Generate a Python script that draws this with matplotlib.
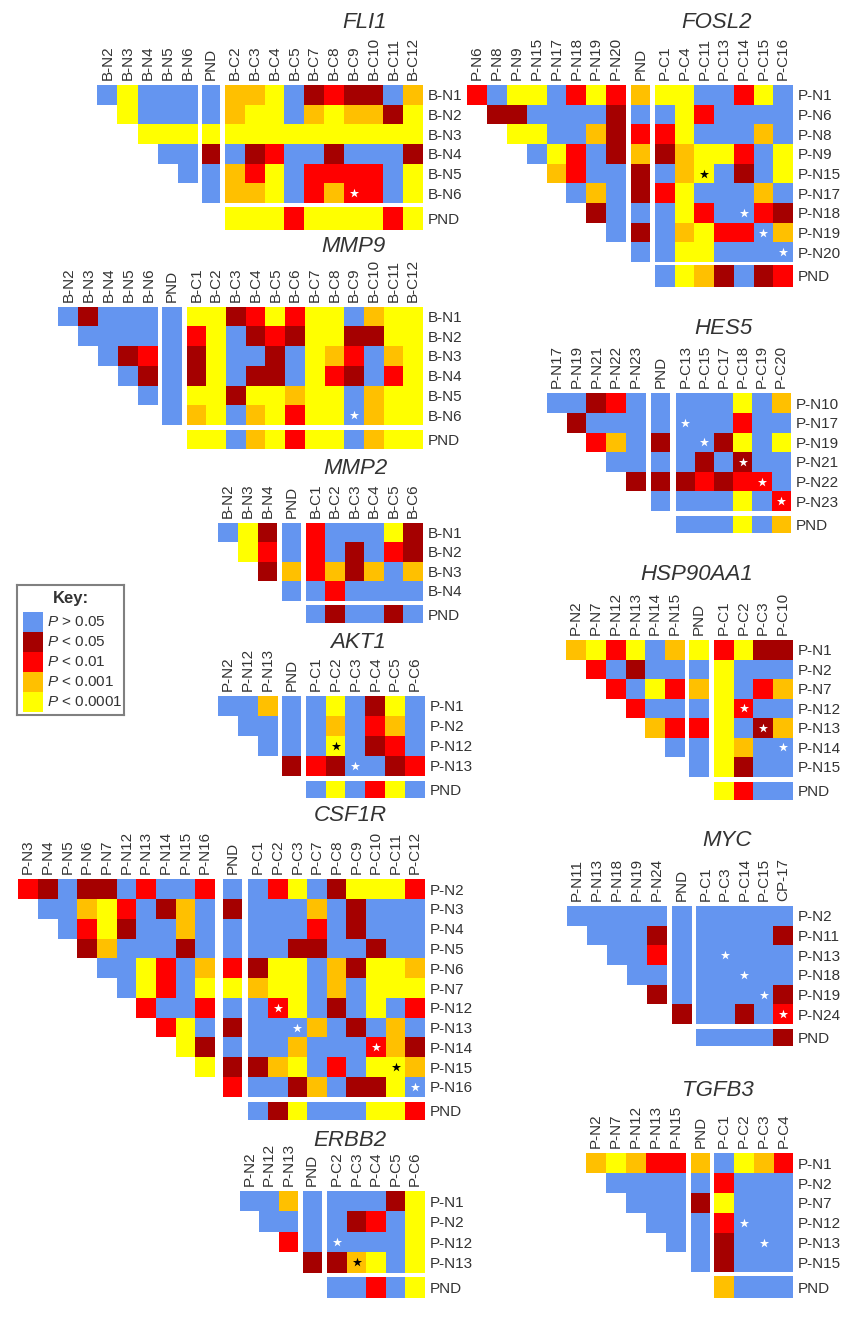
import numpy as np
from matplotlib import pyplot as plt
from matplotlib.colors import ListedColormap

plt.rcParams["font.family"] = ["Liberation Sans", "DejaVu Sans"]
plt.rcParams["mathtext.fontset"] = "custom"
plt.rcParams["mathtext.it"] = "Liberation Sans:italic"

W, H = 843, 1336
COLORS = ["#6495F0", "#A50000", "#FF0000", "#FFC000", "#FFFF00"]
TEXT = "#333333"
KEY_LABELS = ["> 0.05", "< 0.05", "< 0.01", "< 0.001", "< 0.0001"]
KEY_VALUES = [0, 1, 2, 3, 4]

# cell codes: 0 P>0.05, 1 P<0.05, 2 P<0.01, 3 P<0.001, 4 P<0.0001, . empty
# each row is normal samples | PND | cases, the last row is PND
FLI1_ROWS = ["B-N1", "B-N2", "B-N3", "B-N4", "B-N5", "B-N6", "PND"]
FLI1_LEFT = ["B-N2", "B-N3", "B-N4", "B-N5", "B-N6"]
FLI1_RIGHT = ["B-C2", "B-C3", "B-C4", "B-C5", "B-C7", "B-C8", "B-C9", "B-C10", "B-C11", "B-C12"]
FLI1_VALUES = [
    "04000|0|3340121103",
    ".4000|0|3440343314",
    "..444|4|4444444444",
    "...00|1|0120010001",
    "....0|0|3240222204",
    ".....|0|3340232204",
    ".....|.|4442444424",
]
FLI1_STARS = [("B-N6", "B-C9")]

FOSL2_ROWS = ["P-N1", "P-N6", "P-N8", "P-N9", "P-N15", "P-N17", "P-N18", "P-N19", "P-N20", "PND"]
FOSL2_LEFT = ["P-N6", "P-N8", "P-N9", "P-N15", "P-N17", "P-N18", "P-N19", "P-N20"]
FOSL2_RIGHT = ["P-C1", "P-C4", "P-C11", "P-C13", "P-C14", "P-C15", "P-C16"]
FOSL2_VALUES = [
    "20440242|3|4400240",
    ".1100001|0|0420000",
    "..440031|2|2400030",
    "...04201|3|1344204",
    "....3200|1|0340104",
    ".....030|1|2400030",
    "......10|0|0420021",
    ".......0|1|0342203",
    "........|0|0440000",
    "........|.|0431012",
]
FOSL2_STARS = [("P-N15", "P-C11"), ("P-N18", "P-C14"), ("P-N19", "P-C15"), ("P-N20", "P-C16")]

MMP9_ROWS = ["B-N1", "B-N2", "B-N3", "B-N4", "B-N5", "B-N6", "PND"]
MMP9_LEFT = ["B-N2", "B-N3", "B-N4", "B-N5", "B-N6"]
MMP9_RIGHT = ["B-C1", "B-C2", "B-C3", "B-C4", "B-C5", "B-C6", "B-C7", "B-C8", "B-C9", "B-C10", "B-C11", "B-C12"]
MMP9_VALUES = [
    "01000|0|441242440344",
    ".0000|0|240121441144",
    "..012|0|140010432034",
    "...01|0|140110421024",
    "....0|0|441443440344",
    ".....|0|340342440344",
    ".....|.|440342440344",
]
MMP9_STARS = [("B-N6", "B-C9")]

MMP2_ROWS = ["B-N1", "B-N2", "B-N3", "B-N4", "PND"]
MMP2_LEFT = ["B-N2", "B-N3", "B-N4"]
MMP2_RIGHT = ["B-C1", "B-C2", "B-C3", "B-C4", "B-C5", "B-C6"]
MMP2_VALUES = [
    "041|0|200041",
    ".42|0|201021",
    "..1|3|231303",
    "...|0|020000",
    "...|.|010010",
]
MMP2_STARS = []

AKT1_ROWS = ["P-N1", "P-N2", "P-N12", "P-N13", "PND"]
AKT1_LEFT = ["P-N2", "P-N12", "P-N13"]
AKT1_RIGHT = ["P-C1", "P-C2", "P-C3", "P-C4", "P-C5", "P-C6"]
AKT1_VALUES = [
    "003|0|040140",
    ".00|0|030230",
    "..0|0|040120",
    "...|1|210012",
    "...|.|040240",
]
AKT1_STARS = [("P-N12", "P-C2"), ("P-N13", "P-C3")]

CSF1R_ROWS = ["P-N2", "P-N3", "P-N4", "P-N5", "P-N6", "P-N7", "P-N12", "P-N13", "P-N14", "P-N15", "P-N16", "PND"]
CSF1R_LEFT = ["P-N3", "P-N4", "P-N5", "P-N6", "P-N7", "P-N12", "P-N13", "P-N14", "P-N15", "P-N16"]
CSF1R_RIGHT = ["P-C1", "P-C2", "P-C3", "P-C7", "P-C8", "P-C9", "P-C10", "P-C11", "P-C12"]
CSF1R_VALUES = [
    "2101102002|0|024014442",
    ".003420130|1|000301000",
    "..02410030|0|000201000",
    "...1300010|0|001100100",
    "....004203|2|144031443",
    ".....04204|4|344030444",
    "......2002|0|024010402",
    ".......240|1|000301030",
    "........41|0|003000231",
    ".........4|1|134020443",
    "..........|2|001301140",
    "..........|.|014000442",
]
CSF1R_STARS = [("P-N12", "P-C2"), ("P-N13", "P-C3"), ("P-N14", "P-C10"), ("P-N15", "P-C11"), ("P-N16", "P-C12")]

ERBB2_ROWS = ["P-N1", "P-N2", "P-N12", "P-N13", "PND"]
ERBB2_LEFT = ["P-N2", "P-N12", "P-N13"]
ERBB2_RIGHT = ["P-C2", "P-C3", "P-C4", "P-C5", "P-C6"]
ERBB2_VALUES = [
    "003|0|00014",
    ".00|0|01204",
    "..2|0|00004",
    "...|1|13404",
    "...|.|00204",
]
ERBB2_STARS = [("P-N12", "P-C2"), ("P-N13", "P-C3")]

HES5_ROWS = ["P-N10", "P-N17", "P-N19", "P-N21", "P-N22", "P-N23", "PND"]
HES5_LEFT = ["P-N17", "P-N19", "P-N21", "P-N22", "P-N23"]
HES5_RIGHT = ["P-C13", "P-C15", "P-C17", "P-C18", "P-C19", "P-C20"]
HES5_VALUES = [
    "00120|0|000403",
    ".1000|0|000200",
    "..230|1|001404",
    "...00|0|010100",
    "....1|1|121220",
    ".....|0|000402",
    ".....|.|000403",
]
HES5_STARS = [("P-N17", "P-C13"), ("P-N19", "P-C15"), ("P-N21", "P-C18"), ("P-N22", "P-C19"), ("P-N23", "P-C20")]

HSP90_ROWS = ["P-N1", "P-N2", "P-N7", "P-N12", "P-N13", "P-N14", "P-N15", "PND"]
HSP90_LEFT = ["P-N2", "P-N7", "P-N12", "P-N13", "P-N14", "P-N15"]
HSP90_RIGHT = ["P-C1", "P-C2", "P-C3", "P-C10"]
HSP90_VALUES = [
    "342403|4|2411",
    ".20100|0|4000",
    "..2042|3|4023",
    "...200|0|4200",
    "....32|2|4013",
    ".....0|0|4300",
    "......|0|4100",
    "......|.|4200",
]
HSP90_STARS = [("P-N12", "P-C2"), ("P-N13", "P-C3"), ("P-N14", "P-C10")]

MYC_ROWS = ["P-N2", "P-N11", "P-N13", "P-N18", "P-N19", "P-N24", "PND"]
MYC_LEFT = ["P-N11", "P-N13", "P-N18", "P-N19", "P-N24"]
MYC_RIGHT = ["P-C1", "P-C3", "P-C14", "P-C15", "CP-17"]
MYC_VALUES = [
    "00000|0|00000",
    ".0001|0|00001",
    "..002|0|00000",
    "...00|0|00000",
    "....1|0|00001",
    ".....|1|00102",
    ".....|.|00001",
]
MYC_STARS = [("P-N13", "P-C3"), ("P-N18", "P-C14"), ("P-N19", "P-C15"), ("P-N24", "CP-17")]

TGFB3_ROWS = ["P-N1", "P-N2", "P-N7", "P-N12", "P-N13", "P-N15", "PND"]
TGFB3_LEFT = ["P-N2", "P-N7", "P-N12", "P-N13", "P-N15"]
TGFB3_RIGHT = ["P-C1", "P-C2", "P-C3", "P-C4"]
TGFB3_VALUES = [
    "34322|3|0432",
    ".0000|0|2000",
    "..000|1|4000",
    "...00|0|2000",
    "....0|0|1000",
    ".....|0|1000",
    ".....|.|3000",
]
TGFB3_STARS = [("P-N12", "P-C2"), ("P-N13", "P-C3")]

# pixel layout: left block, PND column, right block, main rows, PND row, title centre
LAYOUT = {
    "FLI1": ((97.3, 198), (201.7, 220), (225, 423), (85, 203), (207.3, 230), (365, 23)),
    "FOSL2": ((467.3, 626), (631, 650), (655, 793), (85, 262), (265, 286.7), (717, 23)),
    "MMP9": ((58.3, 158.3), (161.7, 181.7), (186.7, 423), (306.7, 425), (430, 449), (353, 247)),
    "MMP2": ((218.3, 277.3), (282.3, 301), (306, 422.7), (522.7, 600.7), (605, 623), (355, 468)),
    "AKT1": ((218, 278), (282, 301), (305.7, 425), (695.7, 775.7), (780.7, 797.7), (358, 643)),
    "CSF1R": ((18.3, 215), (222.7, 242.3), (248.3, 425), (879.3, 1096.7), (1101.7, 1120), (350, 815)),
    "ERBB2": ((240, 298.3), (302.7, 321.7), (327.3, 425), (1191, 1272.7), (1276.7, 1297.7), (350, 1140)),
    "HES5": ((546.7, 646), (650.7, 670), (675.7, 790.7), (393.3, 511), (516, 532.7), (723, 329)),
    "HSP90AA1": ((566, 685), (689.3, 708.7), (714, 792.7), (640, 776.7), (781.7, 800), (697, 574)),
    "MYC": ((566.7, 666.7), (672.3, 691.7), (696, 792.7), (906, 1024), (1029, 1046), (727, 841)),
    "TGFB3": ((586, 685.7), (690.7, 710), (714.3, 793.3), (1153.3, 1272.3), (1276, 1298.3), (718, 1090)),
}

cmap = ListedColormap(COLORS)


def add_axes_px(fig, x0, x1, y0, y1):
    return fig.add_axes([x0 / W, 1 - y1 / H, (x1 - x0) / W, (y1 - y0) / H])


def parse(values):
    table = []
    for row in values:
        table.append([np.nan if c == "." else int(c) for c in row.replace("|", "")])
    return np.array(table)


def draw_panel(fig, name, rows, left, right, values, stars):
    lx, px, rx, ry, py, title = LAYOUT[name]
    ax = add_axes_px(fig, lx[0], rx[1], ry[0], py[1])
    ax.set_xlim(lx[0], rx[1])
    ax.set_ylim(py[1], ry[0])
    data = parse(values)
    n_left = len(left)

    x_edges = [np.linspace(*lx, n_left + 1), np.linspace(*px, 2), np.linspace(*rx, len(right) + 1)]
    y_edges = [np.linspace(*ry, len(rows)), np.linspace(*py, 2)]
    col_slices = [slice(0, n_left), slice(n_left, n_left + 1), slice(n_left + 1, None)]
    row_slices = [slice(0, len(rows) - 1), slice(len(rows) - 1, None)]

    for xe, cs in zip(x_edges, col_slices):
        for ye, rs in zip(y_edges, row_slices):
            ax.pcolormesh(xe, ye, np.ma.masked_invalid(data[rs, cs]), cmap=cmap, vmin=-0.5, vmax=4.5)

    x_mid = np.concatenate([(e[:-1] + e[1:]) / 2 for e in x_edges])
    y_mid = np.concatenate([(e[:-1] + e[1:]) / 2 for e in y_edges])
    columns = left + ["PND"] + right

    for r, c in stars:
        i, j = rows.index(r), columns.index(c)
        color = "black" if data[i, j] >= 3 else "white"
        ax.scatter(x_mid[j], y_mid[i], marker="*", s=48, color=color, linewidths=0, zorder=3)

    ax.xaxis.tick_top()
    ax.set_xticks(x_mid, columns, rotation=90, fontsize=11, color=TEXT)
    ax.yaxis.tick_right()
    ax.set_yticks(y_mid, rows, fontsize=11, color=TEXT)
    ax.tick_params(length=0, pad=3.5)
    for s in ax.spines.values():
        s.set_visible(False)
    ax.patch.set_alpha(0)

    fig.text(title[0] / W, 1 - title[1] / H, name, fontsize=16, style="italic",
             color=TEXT, ha="center", va="center")


def draw_key(fig):
    ax = add_axes_px(fig, 16.7, 124, 585, 715)
    ax.set_xlim(16.7, 124)
    ax.set_ylim(715, 585)
    ax.set_xticks([])
    ax.set_yticks([])
    for s in ax.spines.values():
        s.set_color("#808080")
        s.set_linewidth(1.5)
    n = len(KEY_VALUES)
    edges = np.linspace(612, 712, n + 1)
    ax.pcolormesh([23, 43], edges, np.array(KEY_VALUES).reshape(n, 1), cmap=cmap, vmin=-0.5, vmax=4.5)
    ax.text(70.5, 599, "Key:", fontsize=12, fontweight="bold", color=TEXT, ha="center", va="center")
    for label, y in zip(KEY_LABELS, (edges[:-1] + edges[1:]) / 2):
        ax.text(47, y, r"$\mathit{P}$ " + label, fontsize=11, color=TEXT, va="center")


fig = plt.figure(figsize=(W / 100, H / 100), dpi=100)

draw_panel(fig, "FLI1", FLI1_ROWS, FLI1_LEFT, FLI1_RIGHT, FLI1_VALUES, FLI1_STARS)
draw_panel(fig, "FOSL2", FOSL2_ROWS, FOSL2_LEFT, FOSL2_RIGHT, FOSL2_VALUES, FOSL2_STARS)
draw_panel(fig, "MMP9", MMP9_ROWS, MMP9_LEFT, MMP9_RIGHT, MMP9_VALUES, MMP9_STARS)
draw_panel(fig, "MMP2", MMP2_ROWS, MMP2_LEFT, MMP2_RIGHT, MMP2_VALUES, MMP2_STARS)
draw_panel(fig, "AKT1", AKT1_ROWS, AKT1_LEFT, AKT1_RIGHT, AKT1_VALUES, AKT1_STARS)
draw_panel(fig, "CSF1R", CSF1R_ROWS, CSF1R_LEFT, CSF1R_RIGHT, CSF1R_VALUES, CSF1R_STARS)
draw_panel(fig, "ERBB2", ERBB2_ROWS, ERBB2_LEFT, ERBB2_RIGHT, ERBB2_VALUES, ERBB2_STARS)
draw_panel(fig, "HES5", HES5_ROWS, HES5_LEFT, HES5_RIGHT, HES5_VALUES, HES5_STARS)
draw_panel(fig, "HSP90AA1", HSP90_ROWS, HSP90_LEFT, HSP90_RIGHT, HSP90_VALUES, HSP90_STARS)
draw_panel(fig, "MYC", MYC_ROWS, MYC_LEFT, MYC_RIGHT, MYC_VALUES, MYC_STARS)
draw_panel(fig, "TGFB3", TGFB3_ROWS, TGFB3_LEFT, TGFB3_RIGHT, TGFB3_VALUES, TGFB3_STARS)
draw_key(fig)

fig.savefig("out.png", dpi=100)
